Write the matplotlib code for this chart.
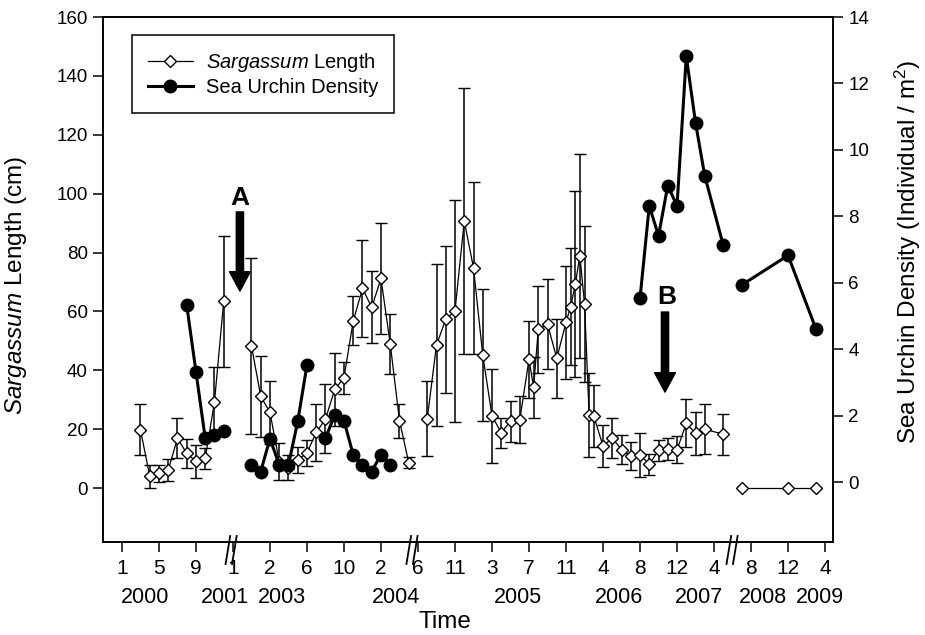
import numpy as np
import matplotlib
matplotlib.use('Agg')
import matplotlib.pyplot as plt
from matplotlib.lines import Line2D
from matplotlib.transforms import blended_transform_factory

plt.rcParams['font.family'] = ['Liberation Sans', 'DejaVu Sans']
plt.rcParams['mathtext.fontset'] = 'custom'
plt.rcParams['mathtext.rm'] = 'Liberation Sans'
plt.rcParams['mathtext.it'] = 'Liberation Sans:italic'

# x axis = sampling month index (one tick every 4 samples)
tick_pos = list(range(0, 80, 4))
tick_lab = ['1', '5', '9', '1', '2', '6', '10', '2', '6', '11',
            '3', '7', '11', '4', '8', '12', '4', '8', '12', '4']
year_lab = ['2000', '2001', '2003', '2004', '2005', '2006', '2007', '2008', '2009']
year_pos = [2.5, 11.1, 17.3, 29.6, 42.8, 53.7, 62.4, 69.3, 75.5]
breaks = [11.8, 31.35, 65.95]

# Sargassum length (cm), mean and error, one list per segment
sarg_k1 = [2, 3, 4, 5, 6, 7, 8, 9, 10, 11]
sarg_v1 = [19.8, 4.1, 5.0, 6.1, 16.9, 11.8, 9.1, 10.1, 29.3, 63.5]
sarg_e1 = [8.7, 3.9, 3.0, 3.7, 6.8, 4.8, 5.5, 3.6, 12.0, 22.2]

sarg_k2 = list(range(14, 32))
sarg_v2 = [48.3, 31.2, 25.7, 9.0, 7.0, 9.5, 12.0, 18.9, 23.5, 33.5,
           37.5, 56.8, 67.8, 61.4, 71.2, 48.9, 22.9, 8.6]
sarg_e2 = [30.0, 13.7, 10.6, 6.2, 4.3, 4.5, 4.4, 9.8, 11.7, 12.5,
           5.5, 8.3, 16.5, 12.2, 18.8, 10.3, 5.8, 1.9]

sarg_k3 = [33, 34, 35, 36, 37, 38, 39, 40, 41, 42, 43, 44, 44.5, 45, 46, 47,
           48, 48.5, 49, 49.5, 50, 50.5, 51, 52, 53, 54, 55, 56, 57, 58, 59,
           60, 61, 62, 63, 65]
sarg_v3 = [23.6, 48.6, 57.3, 60.2, 90.7, 74.8, 45.2, 24.5, 18.8, 22.7, 23.2,
           43.7, 34.2, 53.9, 55.7, 44.1, 56.3, 61.6, 69.2, 78.9, 62.6, 24.8,
           24.5, 14.3, 17.0, 13.1, 10.9, 11.3, 8.1, 12.8, 13.2, 13.0, 22.0,
           18.6, 20.0, 18.3]
sarg_e3 = [12.8, 27.4, 24.9, 37.8, 45.2, 29.2, 22.4, 15.9, 5.1, 7.0, 8.0,
           13.1, 10.4, 14.9, 15.4, 13.4, 19.3, 19.8, 31.6, 34.7, 26.5, 14.3,
           10.5, 7.0, 6.9, 4.9, 4.9, 7.5, 3.6, 3.5, 3.7, 4.6, 8.2, 7.4, 8.5,
           7.0]

sarg_k4 = [67, 72, 75]
sarg_v4 = [0, 0, 0]

# sea urchin density (individual / m2), one list per segment
urch_k1 = [7, 8, 9, 10, 11]
urch_v1 = [5.33, 3.33, 1.33, 1.43, 1.54]
urch_k2 = [14, 15, 16, 17, 18, 19, 20]
urch_v2 = [0.53, 0.33, 1.32, 0.53, 0.53, 1.84, 3.53]
urch_k3 = [22, 23, 24, 25, 26, 27, 28, 29]
urch_v3 = [1.33, 2.04, 1.86, 0.83, 0.53, 0.33, 0.84, 0.53]
urch_k4 = [56, 57, 58, 59, 60, 61, 62, 63, 65]
urch_v4 = [5.54, 8.32, 7.42, 8.93, 8.32, 12.82, 10.82, 9.22, 7.13]
urch_k5 = [67, 72, 75]
urch_v5 = [5.94, 6.83, 4.63]

fig = plt.figure(figsize=(9.25, 6.35), dpi=100)
ax = fig.add_axes([103 / 925, 93 / 635, 730 / 925, 525 / 635])
ax2 = ax.twinx()

sarg_style = dict(fmt='-', color='black', lw=0.9, marker='D', ms=6.3, mfc='white',
                  mec='black', mew=1.0, ecolor='black', elinewidth=1.1,
                  capsize=4.5, capthick=1.1)
for k, v, e in [(sarg_k1, sarg_v1, sarg_e1), (sarg_k2, sarg_v2, sarg_e2),
                (sarg_k3, sarg_v3, sarg_e3)]:
    ax.errorbar(k, v, yerr=e, **sarg_style)
ax.plot(sarg_k4, sarg_v4, '-', color='black', lw=0.9, marker='D', ms=6.3,
        mfc='white', mec='black', mew=1.0)

for k, v in [(urch_k1, urch_v1), (urch_k2, urch_v2), (urch_k3, urch_v3),
             (urch_k4, urch_v4), (urch_k5, urch_v5)]:
    ax2.plot(k, v, '-', color='black', lw=2.2, marker='o', ms=9)

ax.set_xlim(-2.05, 76.86)
ax.set_ylim(-18.3, 160)
ax2.set_ylim(-1.79, 14)
ax.set_yticks(range(0, 161, 20))
ax2.set_yticks(range(0, 15, 2))
ax.set_xticks(tick_pos)
ax.set_xticklabels(tick_lab)

for a in (ax, ax2):
    a.tick_params(direction='out', length=7, width=1.1, labelsize=13.5, pad=4)
    for s in a.spines.values():
        s.set_linewidth(1.2)
ax.tick_params(axis='x', labelsize=15, pad=5)

ax.set_ylabel(r'$\mathit{Sargassum}$ Length (cm)', fontsize=17.5)
ax.yaxis.set_label_coords(-0.101, 0.488)
ax2.set_ylabel(r'Sea Urchin Density (Individual / m$^{2}$)', fontsize=17.5)
ax2.yaxis.set_label_coords(1.082, 0.552)

tr = blended_transform_factory(ax.transData, ax.transAxes)
for x, lab in zip(year_pos, year_lab):
    ax.text(x, -0.105, lab, transform=tr, ha='center', va='center', fontsize=15.5)
ax.text(0.468, -0.153, 'Time', transform=ax.transAxes, ha='center', va='center',
        fontsize=17.5)

# axis break marks
for xb in breaks:
    for off in (-0.35, 0.35):
        ax.plot([xb + off - 0.25, xb + off + 0.25], [-22 / 525, 6 / 525],
                transform=tr, color='black', lw=1.3, clip_on=False)

# arrows A and B
arrow = dict(arrowstyle='simple,head_length=0.7,head_width=0.75,tail_width=0.26',
             fc='black', ec='black', mutation_scale=20, shrinkA=0, shrinkB=0)
ax.annotate('', xy=(12.75, 66.9), xytext=(12.75, 93.8), arrowprops=arrow)
ax.text(12.75, 98.5, 'A', ha='center', va='center', fontsize=19, fontweight='bold')
ax.annotate('', xy=(58.7, 32.6), xytext=(58.7, 59.8), arrowprops=arrow)
ax.text(58.9, 64.9, 'B', ha='center', va='center', fontsize=19, fontweight='bold')

handles = [Line2D([], [], color='black', lw=0.9, marker='D', ms=6.3, mfc='white',
                  mec='black', mew=1.0),
           Line2D([], [], color='black', lw=2.2, marker='o', ms=9)]
labels = [r'$\mathit{Sargassum}$ Length', 'Sea Urchin Density']
leg = ax2.legend(handles, labels, loc='upper left', bbox_to_anchor=(0.040, 0.966),
                 borderaxespad=0, fontsize=14.5, handlelength=2.2, handletextpad=0.65,
                 borderpad=0.8, labelspacing=0.2, fancybox=False, framealpha=1)
leg.get_frame().set_edgecolor('black')
leg.get_frame().set_linewidth(1.1)

fig.savefig('out.png', dpi=100)
